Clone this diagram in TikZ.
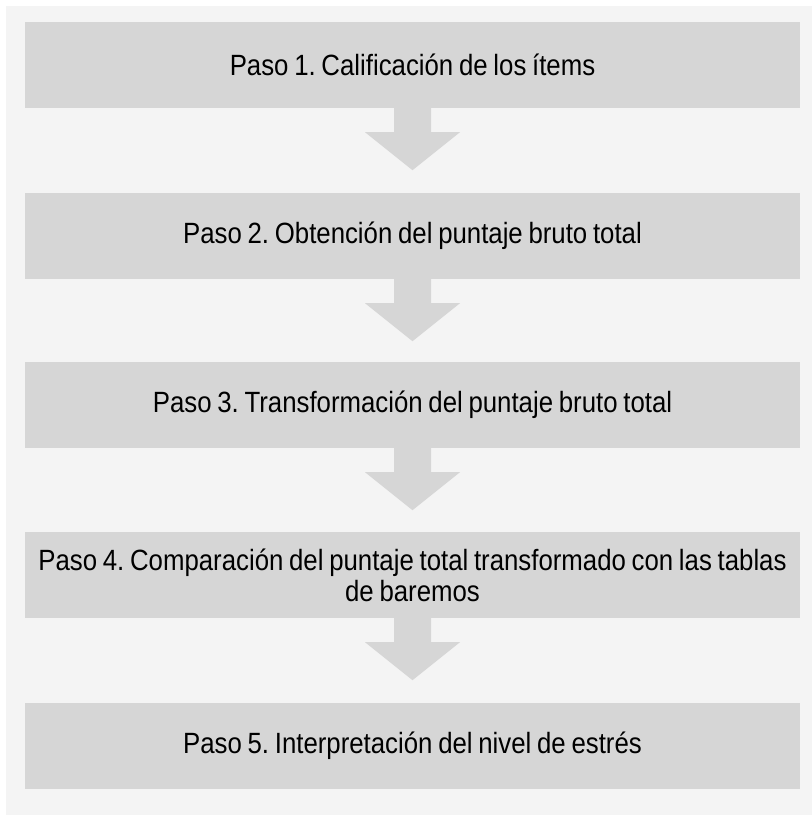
\documentclass[tikz,border=0pt]{standalone}
\usepackage{fontspec}
\setmainfont{Liberation Sans}[FakeStretch=0.88,WordSpace=0.8]
\usetikzlibrary{calc}
\definecolor{bgpanel}{HTML}{F4F4F4}
\definecolor{boxgray}{HTML}{D6D6D6}
\tikzset{
  stepbox/.style={fill=boxgray, draw=none, minimum width=775pt, minimum height=86pt, inner sep=0pt, align=center, font=\fontsize{29.3}{31}\selectfont\frenchspacing, text=black},
  blockarrow/.style={fill=boxgray, draw=none}
}
\newcommand{\blkarrow}[1]{%
  \fill[blockarrow] ($(#1.south)+(-18.5pt,0)$) -- ++(0,-24pt) -- ++(-29pt,0) -- ($(#1.south)+(0,-62pt)$) -- ($(#1.south)+(47.5pt,-24pt)$) -- ++(-29pt,0) -- ($(#1.south)+(18.5pt,0)$) -- cycle;}
\begin{document}
\begin{tikzpicture}[x=1pt,y=-1pt]
\useasboundingbox (0,0) rectangle (812,815);
\fill[white] (0,0) rectangle (812,815);
\fill[bgpanel] (6,6) rectangle (813,816);
\node[stepbox] (b1) at (412.5,65) {Paso 1. Calificación de los ítems};
\node[stepbox] (b2) at (412.5,236) {Paso 2. Obtención del puntaje bruto total};
\node[stepbox] (b3) at (412.5,405) {Paso 3. Transformación del puntaje bruto total};
\node[stepbox] (b4) at (412.5,575) {Paso 4. Comparación del puntaje total transformado con las tablas\\de baremos};
\node[stepbox] (b5) at (412.5,746) {Paso 5. Interpretación del nivel de estrés};
\blkarrow{b1}
\blkarrow{b2}
\blkarrow{b3}
\blkarrow{b4}
\end{tikzpicture}
\end{document}
